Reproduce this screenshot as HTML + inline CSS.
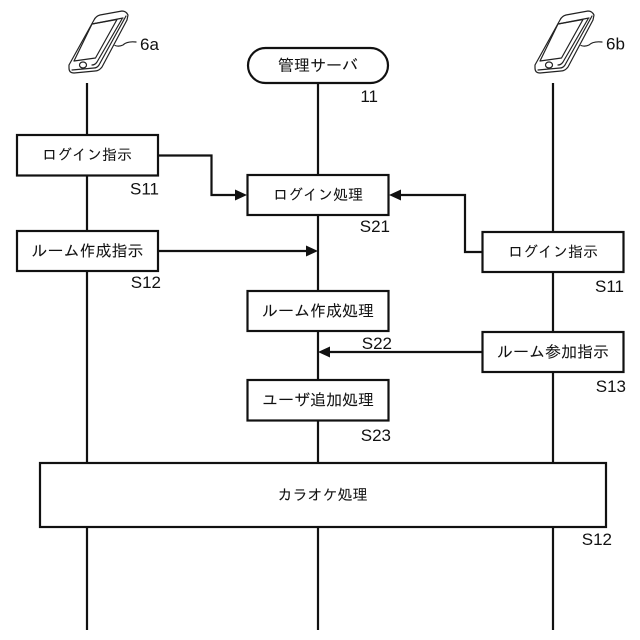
<!DOCTYPE html>
<html lang="ja">
<head>
<meta charset="utf-8">
<style>
html,body{margin:0;padding:0;background:#fff;}
svg{display:block;}
text{font-family:"Liberation Sans","IPAGothic","Noto Sans CJK JP",sans-serif;fill:#111;}
.j{font-size:16px;text-anchor:middle;stroke:#111;stroke-width:.05;}
.k{font-size:15px;text-anchor:middle;stroke:#111;stroke-width:.05;}
.l{font-size:17px;text-anchor:end;}
.b{fill:#fff;stroke:#111;stroke-width:2.200;}
.w{fill:none;stroke:#111;stroke-width:2.200;}
.p{fill:none;stroke:#222;stroke-width:1.200;stroke-linejoin:round;stroke-linecap:round;}
</style>
</head>
<body>
<svg width="640" height="640" viewBox="0 0 640 640" xmlns="http://www.w3.org/2000/svg">
<rect width="640" height="640" fill="#fff"/>

<!-- lifelines -->
<path class="w" d="M87 83V630M318 84V630M553 83V630"/>

<!-- phones -->
<g>
<path class="p" d="M69 65L94 20Q96 16 100 15L122 11Q126 11 128 15L127 20L102 67Q99 71 95 71L74 73Q69 73 69 68Z"/>
<path class="p" d="M126 16L99 65Q97 68 94 68L72 70"/>
<path class="p" d="M92 24L117 19.500L95.500 58L74 61Z"/>
<path class="p" d="M122 19L97 62Q95 65 92 65"/>
<path class="p" d="M92 24L123 18"/>
<ellipse class="p" cx="83" cy="65" rx="3.500" ry="3"/>
<path class="p" d="M115 45.500Q119 47 123 45Q127 41 136 42"/>
</g>
<g transform="translate(466,0)">
<path class="p" d="M69 65L94 20Q96 16 100 15L122 11Q126 11 128 15L127 20L102 67Q99 71 95 71L74 73Q69 73 69 68Z"/>
<path class="p" d="M126 16L99 65Q97 68 94 68L72 70"/>
<path class="p" d="M92 24L117 19.500L95.500 58L74 61Z"/>
<path class="p" d="M122 19L97 62Q95 65 92 65"/>
<path class="p" d="M92 24L123 18"/>
<ellipse class="p" cx="83" cy="65" rx="3.500" ry="3"/>
<path class="p" d="M115 45.500Q119 47 123 45Q127 41 136 42"/>
</g>
<text x="140" y="50" font-size="17">6a</text>
<text x="606" y="49.500" font-size="17">6b</text>

<!-- server -->
<rect class="b" x="248" y="48" width="140" height="35" rx="17.500"/>
<text class="j" x="318" y="71">管理サーバ</text>
<text class="l" x="378" y="102">11</text>

<!-- connectors -->
<path class="w" d="M158 155.500H211.500V195H237"/>
<path d="M247 195L235 189.500V200.500Z" fill="#111"/>
<path class="w" d="M158 251H308"/>
<path d="M318 251L306 245.500V256.500Z" fill="#111"/>
<path class="w" d="M482 252H465V195H399"/>
<path d="M389 195L401 189.500V200.500Z" fill="#111"/>
<path class="w" d="M482 352H328"/>
<path d="M318 352L330 346.500V357.500Z" fill="#111"/>

<!-- boxes -->
<rect class="b" x="17" y="135" width="141" height="40.500"/>
<text class="k" x="87" y="160">ログイン指示</text>
<text class="l" x="159" y="194.500">S11</text>

<rect class="b" x="17" y="231" width="141" height="40"/>
<text class="j" x="87.500" y="256.500">ルーム作成指示</text>
<text class="l" x="161" y="288">S12</text>

<rect class="b" x="247.500" y="175" width="141" height="40"/>
<text class="k" x="318" y="200">ログイン処理</text>
<text class="l" x="390" y="232">S21</text>

<rect class="b" x="482.500" y="232" width="141" height="40"/>
<text class="k" x="553" y="257">ログイン指示</text>
<text class="l" x="624" y="292">S11</text>

<rect class="b" x="247.500" y="291" width="141" height="40"/>
<text class="j" x="318" y="316.500">ルーム作成処理</text>
<text class="l" x="392" y="349">S22</text>

<rect class="b" x="482.500" y="332" width="141" height="40"/>
<text class="j" x="553" y="357.500">ルーム参加指示</text>
<text class="l" x="626" y="392">S13</text>

<rect class="b" x="247.500" y="380" width="141" height="40.500"/>
<text class="j" x="318" y="405.500">ユーザ追加処理</text>
<text class="l" x="391" y="441">S23</text>

<rect class="b" x="40" y="463" width="566" height="64"/>
<text class="k" x="322.500" y="500">カラオケ処理</text>
<text class="l" x="612" y="545">S12</text>
</svg>
</body>
</html>
